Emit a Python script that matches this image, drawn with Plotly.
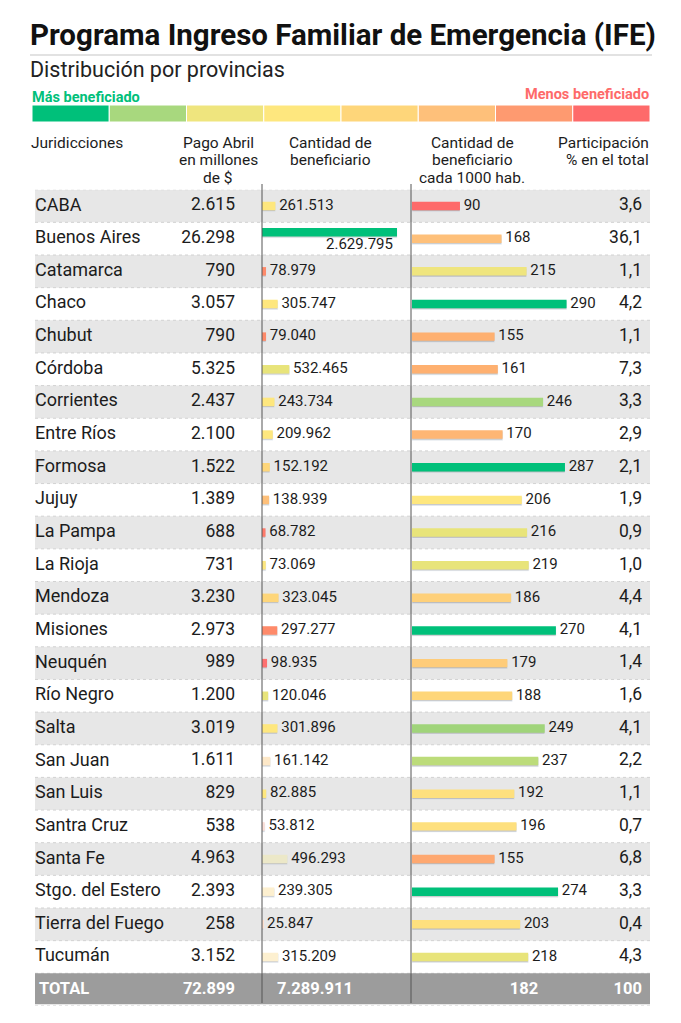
import plotly.graph_objects as go

# Data read from the infographic
provincias = ["CABA", "Buenos Aires", "Catamarca", "Chaco", "Chubut", "Córdoba",
              "Corrientes", "Entre Ríos", "Formosa", "Jujuy", "La Pampa", "La Rioja",
              "Mendoza", "Misiones", "Neuquén", "Río Negro", "Salta", "San Juan",
              "San Luis", "Santra Cruz", "Santa Fe", "Stgo. del Estero",
              "Tierra del Fuego", "Tucumán"]
pago_abril = [2615, 26298, 790, 3057, 790, 5325, 2437, 2100, 1522, 1389, 688, 731,
              3230, 2973, 989, 1200, 3019, 1611, 829, 538, 4963, 2393, 258, 3152]
beneficiarios = [261513, 2629795, 78979, 305747, 79040, 532465, 243734, 209962,
                 152192, 138939, 68782, 73069, 323045, 297277, 98935, 120046,
                 301896, 161142, 82885, 53812, 496293, 239305, 25847, 315209]
cada_1000 = [90, 168, 215, 290, 155, 161, 246, 170, 287, 206, 216, 219, 186, 270,
             179, 188, 249, 237, 192, 196, 155, 274, 203, 218]
participacion = [3.6, 36.1, 1.1, 4.2, 1.1, 7.3, 3.3, 2.9, 2.1, 1.9, 0.9, 1.0, 4.4,
                 4.1, 1.4, 1.6, 4.1, 2.2, 1.1, 0.7, 6.8, 3.3, 0.4, 4.3]
total_pago = 72899
total_benef = 7289911
total_1000 = 182
total_part = 100

# column headers
encabezados = [
    (["Juridicciones"], 30, "left"),
    (["Pago Abril", "en millones", "de $"], 218, "center"),
    (["Cantidad de", "beneficiario"], 330, "center"),
    (["Cantidad de", "beneficiario", "cada 1000 hab."], 472, "center"),
    (["Participación", "% en el total"], 650, "right"),
]

# colour key, from most to least benefited
paleta = ["#00c07a", "#a8d87e", "#efe57e", "#fee77e", "#fed67a", "#fec07a", "#fe9a70", "#fe6a6a"]
# colour of each bar
color_benef = ["#fee77e", "#00c07a", "#fe8a6a", "#fee77e", "#fe8a6a", "#e8e47a",
               "#fee77e", "#fee77e", "#fed67a", "#fec07a", "#fe7a6a", "#fee77e",
               "#fed67a", "#fe8a6a", "#fe7070", "#e8e47a", "#fee77e", "#fde8c8",
               "#fee77e", "#fde0d8", "#ece8c8", "#fdf0d0", "#fde0d0", "#fdf0d0"]
color_1000 = ["#fe6a6a", "#fec07a", "#efe57e", "#00c07a", "#feb070", "#feb070",
              "#a8d87e", "#feb674", "#00c07a", "#fee77e", "#e8e47a", "#e8e47a",
              "#fed07a", "#00c07a", "#fecc7a", "#fed67a", "#a0d47a", "#bcdc7a",
              "#fee07e", "#fee07e", "#fea870", "#00c07a", "#fee07e", "#e8e47a"]

W, H = 681, 1023
TOP, ROW = 189.7, 32.65
filas = provincias + ["TOTAL"]
n = len(filas)
y_top = 1 - TOP / H
y_bot = 1 - (TOP + n * ROW) / H
TXT = "#1c1c1c"
FONT = "Roboto"
NB = "\u00a0"


def miles(v):
    return f"{v:,}".replace(",", ".")


def coma(v):
    return f"{v:.1f}".replace(".", ",")


fig = go.Figure()

# row stripes and dotted separators
shapes = []
for i in range(len(provincias)):
    if i % 2 == 0:
        shapes.append(dict(type="rect", xref="x", yref="y", x0=35, x1=650,
                           y0=i - 0.5, y1=i + 0.5, fillcolor="#e7e7e7",
                           line=dict(width=0), layer="below"))
for i in range(n + 1):
    shapes.append(dict(type="line", xref="x", yref="y", x0=35, x1=650,
                       y0=i - 0.5, y1=i - 0.5,
                       line=dict(color="#d2d2d2", width=1, dash="dot"), layer="below"))
# total row
shapes.append(dict(type="rect", xref="x", yref="y", x0=35, x1=650,
                   y0=n - 1.5, y1=n - 0.55, fillcolor="#9c9c9c",
                   line=dict(width=0), layer="below"))
# column dividers
for xd in [262, 411]:
    shapes.append(dict(type="line", xref="x", yref="paper", x0=xd, x1=xd,
                       y0=1 - 1003 / H, y1=1 - 184 / H,
                       line=dict(color="#555555", width=1)))
# rule under the title
shapes.append(dict(type="line", xref="x", yref="paper", x0=30, x1=652,
                   y0=1 - 55 / H, y1=1 - 55 / H,
                   line=dict(color="#e2e2e2", width=2)))

# the widest bar sits higher in its row, its label goes underneath
i_max = beneficiarios.index(max(beneficiarios))
off_benef = [-0.13] * len(beneficiarios)
off_benef[i_max] = -0.33
off_sombra = [o + 0.04 for o in off_benef]

# bars: Cantidad de beneficiario
fig.add_trace(go.Bar(x=beneficiarios, y=provincias, orientation="h", xaxis="x2", yaxis="y",
                     width=0.26, offset=off_sombra, marker=dict(color="rgba(120,120,120,0.35)"),
                     hoverinfo="skip"))
fig.add_trace(go.Bar(x=beneficiarios, y=provincias, orientation="h", xaxis="x2", yaxis="y",
                     width=0.26, offset=off_benef, marker=dict(color=color_benef, line=dict(width=0)),
                     hoverinfo="skip"))
# bars: cada 1000 hab.
fig.add_trace(go.Bar(x=cada_1000, y=provincias, orientation="h", xaxis="x3", yaxis="y",
                     width=0.26, offset=-0.09, marker=dict(color="rgba(120,120,120,0.4)"),
                     hoverinfo="skip"))
fig.add_trace(go.Bar(x=cada_1000, y=provincias, orientation="h", xaxis="x3", yaxis="y",
                     width=0.26, offset=-0.13, marker=dict(color=color_1000, line=dict(width=0)),
                     hoverinfo="skip"))

# bar labels
txt_benef = [NB + miles(v) for v in beneficiarios]
txt_benef[i_max] = ""
fig.add_trace(go.Scatter(x=beneficiarios, y=provincias, xaxis="x2", yaxis="y", mode="text",
                         text=txt_benef, textposition="middle right",
                         textfont=dict(family=FONT, size=15, color=TXT), hoverinfo="skip"))
fig.add_trace(go.Scatter(x=cada_1000, y=provincias, xaxis="x3", yaxis="y", mode="text",
                         text=[NB + str(v) for v in cada_1000], textposition="middle right",
                         textfont=dict(family=FONT, size=15, color=TXT), hoverinfo="skip"))

# text columns
fig.add_trace(go.Scatter(x=[35] * len(provincias), y=provincias, mode="text",
                         text=provincias, textposition="middle right",
                         textfont=dict(family=FONT, size=18, color=TXT), hoverinfo="skip"))
fig.add_trace(go.Scatter(x=[235] * len(provincias), y=provincias, mode="text",
                         text=[miles(v) for v in pago_abril], textposition="middle left",
                         textfont=dict(family=FONT, size=17.5, color=TXT), hoverinfo="skip"))
fig.add_trace(go.Scatter(x=[642] * len(provincias), y=provincias, mode="text",
                         text=[coma(v) for v in participacion], textposition="middle left",
                         textfont=dict(family=FONT, size=17.5, color=TXT), hoverinfo="skip"))

# total row
fig.add_trace(go.Scatter(x=[39, 235, 315, 524, 642], y=["TOTAL"] * 5, mode="text",
                         text=["TOTAL", miles(total_pago), miles(total_benef),
                               str(total_1000), str(total_part)],
                         textposition=["middle right", "middle left", "middle center",
                                       "middle center", "middle left"],
                         textfont=dict(family=FONT, size=16.5, color="white", weight=700),
                         hoverinfo="skip"))

# colour key
fig.add_trace(go.Bar(x=[1] * len(paleta), base=list(range(len(paleta))), y=[0] * len(paleta),
                     orientation="h", xaxis="x4", yaxis="y4", width=1,
                     marker=dict(color=paleta, line=dict(color="white", width=1)),
                     hoverinfo="skip"))

annotations = [
    dict(text=miles(beneficiarios[i_max]), x=beneficiarios[i_max], y=provincias[i_max],
         xref="x2", yref="y", xanchor="right", yanchor="middle", yshift=-5, xshift=-2,
         showarrow=False, font=dict(family=FONT, size=15, color=TXT)),
    dict(text="Programa Ingreso Familiar de Emergencia (IFE)", x=28, y=1 - 35 / H,
         xref="x", yref="paper", xanchor="left", yanchor="middle", showarrow=False,
         font=dict(family=FONT, size=29.5, color="#111111", weight=700)),
    dict(text="Distribución por provincias", x=28, y=1 - 70 / H,
         xref="x", yref="paper", xanchor="left", yanchor="middle", showarrow=False,
         font=dict(family=FONT, size=21.5, color="#222222")),
    dict(text="Más beneficiado", x=30, y=1 - 97 / H,
         xref="x", yref="paper", xanchor="left", yanchor="middle", showarrow=False,
         font=dict(family=FONT, size=14.5, color="#00c07a", weight=700)),
    dict(text="Menos beneficiado", x=651, y=1 - 94 / H,
         xref="x", yref="paper", xanchor="right", yanchor="middle", showarrow=False,
         font=dict(family=FONT, size=14.5, color="#fe6a6a", weight=700)),
]
# headers, one annotation per line to keep the tight line spacing
for lineas, xh, al in encabezados:
    for k, linea in enumerate(lineas):
        annotations.append(dict(text=linea, x=xh, y=1 - (143 + 17.5 * k) / H,
                                xref="x", yref="paper", xanchor=al, yanchor="middle",
                                borderpad=0, showarrow=False,
                                font=dict(family=FONT, size=15.5, color=TXT)))

hidden = dict(visible=False, showgrid=False, zeroline=False, fixedrange=True)
fig.update_layout(
    width=W, height=H,
    margin=dict(l=0, r=0, t=0, b=0),
    paper_bgcolor="white", plot_bgcolor="rgba(0,0,0,0)",
    showlegend=False, barmode="overlay",
    shapes=shapes, annotations=annotations,
    xaxis=dict(range=[0, W], domain=[0, 1], **hidden),
    yaxis=dict(type="category", categoryorder="array", categoryarray=filas,
               range=[n - 0.5, -0.5], domain=[y_bot, y_top], **hidden),
    xaxis2=dict(range=[0, max(beneficiarios) * 149 / 135], domain=[262 / W, 411 / W],
                anchor="y", **hidden),
    xaxis3=dict(range=[0, (W - 412) / 0.533], domain=[412 / W, 1], anchor="y", **hidden),
    xaxis4=dict(range=[0, len(paleta)], domain=[32 / W, 650 / W], anchor="y4", **hidden),
    yaxis4=dict(range=[-0.5, 0.5], domain=[1 - 122 / H, 1 - 105 / H], anchor="x4", **hidden),
)

fig.write_html("out.html", config={"displayModeBar": False},
               post_script="document.body.style.margin='0px';")
